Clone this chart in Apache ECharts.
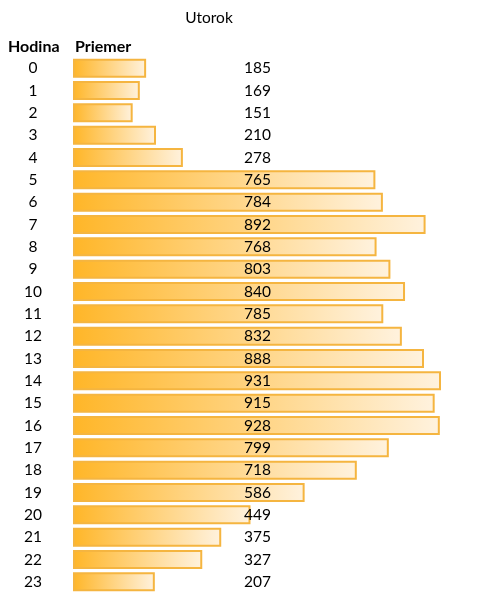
<!DOCTYPE html>
<html>
<head>
<meta charset="utf-8">
<script src="https://cdn.jsdelivr.net/npm/echarts@6/dist/echarts.min.js"></script>
<style>
  html, body { margin: 0; padding: 0; background: #fff; }
  #main { width: 503px; height: 597px; }
</style>
</head>
<body>
<div id="main"></div>
<script>
// hodiny a priemerne hodnoty (utorok)
const hours = ['0','1','2','3','4','5','6','7','8','9','10','11','12','13','14','15','16','17','18','19','20','21','22','23']
const averages = [185,169,151,210,278,765,784,892,768,803,840,785,832,888,931,915,928,799,718,586,449,375,327,207]
const dayName = 'Utorok'
const colHeaders = ['Hodina', 'Priemer']

const font = 'Lato, "Open Sans", sans-serif'
const chart = echarts.init(document.getElementById('main'))

let option = {
  backgroundColor: '#fff',
  animation: false,
  title: {
    text: dayName,
    left: 204,
    top: 5,
    textAlign: 'center',
    textStyle: { fontFamily: font, fontSize: 15.5, fontWeight: 'normal', color: '#000' }
  },
  graphic: [
    {
      type: 'text', left: 8, top: 39,
      style: { text: colHeaders[0], font: 'bold 16px ' + font, fill: '#000' }
    },
    {
      type: 'text', left: 75, top: 39,
      style: { text: colHeaders[1], font: 'bold 16px ' + font, fill: '#000' }
    }
  ],
  grid: {
    left: 73,
    right: 62,
    top: 57,
    bottom: 4
  },
  xAxis: {
    type: 'value',
    min: 0,
    max: 'dataMax',
    show: false
  },
  yAxis: {
    type: 'category',
    inverse: true,
    data: hours,
    axisLine: { show: false },
    axisTick: { show: false },
    splitLine: { show: false },
    axisLabel: {
      align: 'center',
      margin: 40,
      fontFamily: font,
      fontSize: 15.5,
      color: '#000'
    }
  },
  series: [{
    type: 'bar',
    data: averages,
    barCategoryGap: '15%',
    itemStyle: {
      color: new echarts.graphic.LinearGradient(0, 0, 1, 0, [
        { offset: 0, color: '#FFB628' },
        { offset: 1, color: '#FFF2DE' }
      ]),
      borderColor: '#F5B540',
      borderWidth: 2
    },
    label: {
      show: true,
      position: [171, '50%'],
      align: 'left',
      verticalAlign: 'middle',
      fontFamily: font,
      fontSize: 15.5,
      color: '#000'
    }
  }]
}

chart.setOption(option)
</script>
</body>
</html>
